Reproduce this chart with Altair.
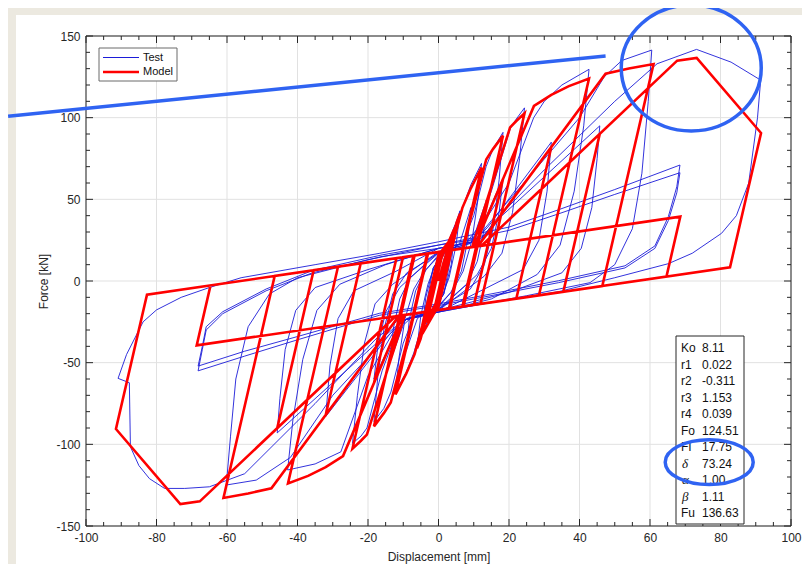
import altair as alt
import pandas as pd

# ---------------- data ----------------
# Model (red) hysteresis vertices: (displacement mm, force kN)
model_small = [
    (0, 0), (1.5, 11.6), (3.05, 22.5), (-0.9, -14.5), (-3.05, -22.5), (0.9, 14.5),
    (4.6, 32.4), (-0.79, -18.0), (-4.6, -32.4), (0.79, 18.0),
    (3.4, 25.5), (-1.1, -18.1), (-3.4, -25.5), (1.1, 18.1),
    (3.02, 18.7), (5.1, 35.6), (6.1, 41.2), (-0.21, -17.8), (-3.02, -18.7), (-5.1, -35.6), (-6.1, -41.2), (0.21, 17.8),
    (3.57, 18.9), (4.6, 27.2), (-0.21, -17.8), (-3.57, -18.9), (-4.6, -27.2), (0.21, 17.8),
]
model_mid = [
    (3.57, 18.9), (6.77, 44.8), (9.2, 56.9), (12.2, 69.5), (2.97, -16.8), (-3.57, -18.9), (-6.77, -44.8), (-9.2, -56.9), (-12.2, -69.5), (-2.97, 16.8),
    (6.82, 19.9), (9.2, 39.2), (3.22, -16.7), (-6.82, -19.9), (-9.2, -39.2), (-3.22, 16.7),
    (6.82, 19.9), (13.54, 74.4), (15.5, 80.9), (18.3, 89.0), (7.12, -15.5), (-6.82, -19.9), (-13.54, -74.4), (-15.5, -80.9), (-18.3, -89.0), (-7.12, 15.5),
    (9.54, 20.8), (13.7, 49.1), (6.78, -15.6), (-9.54, -20.8), (-13.7, -49.1), (-6.78, 15.6),
    (9.54, 20.8), (20.31, 94.0), (22.0, 97.8), (24.4, 102.6), (11.93, -14.0), (-9.54, -20.8), (-20.31, -94.0), (-22.0, -97.8), (-24.4, -102.6), (-11.93, 14.0),
    (10.17, 21.0), (18.3, 62.4), (10.07, -14.6), (-10.17, -21.0), (-18.3, -62.4), (-10.07, 14.6),
]
model_large = [
    (10.17, 21.0), (27.08, 107.2), (32.0, 114.0), (37.0, 119.3), (42.7, 123.9), (28.51, -8.7),
    (-10.17, -21.0), (-27.08, -107.2), (-32.0, -114.0), (-37.0, -119.3), (-42.7, -123.9), (-28.51, 8.7),
    (11.17, 21.3), (32.0, 82.0), (22.08, -10.8), (-11.17, -21.3), (-32.0, -82.0), (-22.08, 10.8),
    (11.17, 21.3), (47.4, 126.9), (54.0, 130.1), (61.0, 132.8), (46.47, -3.1),
    (-11.17, -21.3), (-47.4, -126.9), (-54.0, -130.1), (-61.0, -132.8), (-46.47, 3.1),
    (12.2, 21.6), (45.75, 90.1), (35.41, -6.6), (-12.2, -21.6), (-45.75, -90.1), (-35.41, 6.6),
    (12.2, 21.6), (67.71, 134.9), (73.24, 136.6), (91.5, 90.6), (82.7, 8.4),
    (-12.2, -21.6), (-67.71, -134.9), (-73.24, -136.6), (-91.5, -90.6), (-82.7, -8.4),
    (68.6, 39.4), (64.67, 2.7), (-68.6, -39.4), (-64.67, -2.7),
]

# Test (blue) curve vertices
test_small = [
    (0, 0), (1.5, 13), (3.05, 24), (2.0, 10), (0.3, -8), (-1.5, -16), (-3.05, -23), (-2.0, -10), (-0.3, 8), (1.5, 16),
    (3.0, 25), (4.6, 34), (3.6, 16), (1.5, -8), (-1.5, -18), (-3.2, -25), (-4.6, -33), (-3.6, -16), (-1.5, 8), (1.5, 18),
    (3.4, 26), (2.4, 8), (0, -14), (-2, -19), (-3.4, -25), (-2.4, -8), (0, 14), (2, 19),
    (3.5, 26), (5, 36), (6.1, 43), (5.0, 22), (3, 2), (0, -15), (-3, -20), (-4.5, -30), (-6.1, -41), (-5.0, -21), (-3, -2), (0, 15), (3, 20),
    (4.6, 30), (3.6, 10), (1.5, -8), (-1.5, -17), (-3.5, -21), (-4.6, -29), (-3.6, -10), (-1.5, 8), (1.5, 17), (3.5, 21),
]
test_mid = [
    (5.5, 34), (7, 46), (9.2, 59), (12.2, 72), (11.2, 50), (9.5, 25), (7, 6), (4, -6), (0, -15), (-3, -19),
    (-5.5, -33), (-7, -44), (-9.2, -56), (-12.2, -68), (-11.2, -47), (-9.5, -23), (-7, -5), (-4, 6), (0, 15), (4, 20),
    (6, 23), (9.2, 45), (8.3, 25), (6.5, 6), (3.5, -7), (0, -16), (-4, -20), (-6, -23), (-9.2, -43), (-8.3, -24), (-6.5, -6), (-3.5, 7), (0, 16), (5, 21),
    (7, 24), (10, 40), (13.5, 70), (15.5, 81), (18.3, 91), (17.2, 62), (15.5, 32), (13, 10), (9, -5), (0, -17),
    (-7, -22), (-10, -38), (-13.5, -68), (-15.5, -78), (-18.3, -86), (-17.2, -58), (-15.5, -30), (-13, -8), (-9, 5), (0, 17), (7, 21),
    (10, 27), (13.7, 50), (12.8, 30), (11, 12), (8, -2), (0, -17), (-7, -21), (-10, -27), (-13.7, -49), (-12.8, -29), (-11, -11), (-8, 2), (0, 17), (7, 21),
    (11, 32), (15, 55), (20.3, 93), (22, 99), (24.4, 106), (23, 75), (21, 42), (18, 17), (13, 3), (0, -18),
    (-9, -23), (-12, -32), (-16, -55), (-20.3, -90), (-22, -95), (-24.4, -99.4), (-23, -70), (-21, -38), (-18, -14), (-13, -2), (0, 18), (9, 23),
    (12, 32), (18.3, 63), (17.2, 42), (15, 20), (11, 4), (0, -18), (-9, -23), (-12, -31), (-18.3, -60), (-17.2, -40), (-15, -19), (-11, -4), (0, 18), (9, 23),
]
test_large = [
    (12, 33), (20, 60), (27, 100), (30, 110), (35, 120), (42.7, 129.6), (41.2, 95), (38.5, 55), (34.5, 22), (28, 4), (15, -11), (0, -19),
    (-10, -24), (-13, -32), (-20, -58), (-27.7, -104.6), (-35, -112), (-42.8, -115.7), (-41.3, -85), (-38.5, -48), (-34.5, -18), (-28, -2), (-15, 10), (0, 20), (10, 24),
    (14, 33), (32, 85), (30.8, 55), (28.5, 25), (24, 7), (12, -6), (0, -19), (-10, -24), (-14, -33), (-32, -83), (-30.8, -52), (-28.5, -23), (-24, -6), (-12, 6), (0, 20), (10, 24),
    (15, 37), (25, 62), (40, 100), (47, 125), (52, 135), (60.5, 141.4), (59.5, 110), (57.7, 66), (55, 32), (50, 10), (43, -1), (25, -9), (0, -19),
    (-10, -24), (-15, -35), (-30, -70), (-42, -108), (-51.7, -121.9), (-60.2, -124.9), (-59, -95), (-57.5, -60), (-54, -28), (-48, -8), (-40, 2), (-20, 13), (0, 22), (12, 26),
    (16, 36), (45.75, 95), (45, 75), (43.5, 45), (40.5, 20), (35, 5), (20, -7), (0, -18), (-10, -24), (-16, -35),
    (-45.75, -93), (-45, -72), (-43.5, -42), (-40.5, -18), (-35, -4), (-20, 7), (0, 20), (12, 25),
    (16, 37), (30, 68), (50, 110), (62, 133), (73.2, 141.8), (83, 134), (91.4, 123), (90.5, 100), (88, 60), (84.5, 40), (80.3, 29.2),
    (72, 17), (65.2, 10.6), (50, 2), (34.1, -6.5), (10, -15), (0, -19), (-12, -25), (-18, -36), (-35, -75), (-55, -118), (-65, -126),
    (-72, -127), (-77.7, -127), (-82, -121), (-85, -113), (-87.4, -101.5), (-87.7, -62.3), (-90.9, -59.6), (-88.5, -45), (-83.8, -25),
    (-80, -17.7), (-73, -10), (-65, -4), (-56, 2), (-35, 10), (-16.8, 16.9), (0, 24), (20, 33),
    (33.9, 43.5), (50, 56), (68.5, 71), (67.6, 57.7), (65.2, 39.4), (61.4, 21.5), (52.9, 9.3), (34.1, 0.2), (10, -10), (0, -14),
    (-16.8, -19.8), (-40, -34), (-55, -43), (-68.2, -52.1), (-67, -40), (-65.9, -28), (-61.2, -18.8), (-48.9, -4.9), (-35.8, 6.4), (-16, 16), (0, 22), (20, 31),
    (33.9, 41), (50, 53), (68.5, 66.3), (67.6, 54), (65.2, 37), (61.4, 20), (52.9, 8), (34.1, -1), (10, -11), (0, -15),
    (-16.8, -21), (-40, -36), (-55, -46), (-68.2, -55), (-67, -42), (-65.9, -30), (-61.2, -20), (-48.9, -6), (-35.8, 5), (-16, 15), (0, 20),
]

x_major = [-100, -80, -60, -40, -20, 0, 20, 40, 60, 80, 100]
x_minor = [-95, -90, -85, -75, -70, -65, -55, -50, -45, -35, -30, -25, -15, -10, -5,
           5, 10, 15, 25, 30, 35, 45, 50, 55, 65, 70, 75, 85, 90, 95]
y_major = [-150, -100, -50, 0, 50, 100, 150]
y_minor = [-140, -130, -120, -110, -90, -80, -70, -60, -40, -30, -20, -10,
           10, 20, 30, 40, 60, 70, 80, 90, 110, 120, 130, 140]

legend_labels = ["Test", "Model"]
param_names = ["Ko", "r1", "r2", "r3", "r4", "Fo", "FI", "δ", "α", "β", "Fu"]
param_values = ["8.11", "0.022", "-0.311", "1.153", "0.039", "124.51", "17.75", "73.24", "1.00", "1.11", "136.63"]
param_greek = [False, False, False, False, False, False, False, True, True, True, False]

annot_line_x = [-122.1, 47.4]
annot_line_y = [100.9, 137.8]
annot_ring_x = [71.7, 76.8]
annot_ring_y = [130.4, -110.9]

# ---------------- styling ----------------
W, H = 705, 490
PR = 11  # right padding
FONT = "Liberation Sans"
INK = "#262626"
BEIGE = "#ece9e0"
RED = "#ff0000"
BLUE = "#1c1cd8"
ANN = "#2f63f2"

def series(pts):
    return pd.DataFrame({"x": [p[0] for p in pts], "y": [p[1] for p in pts], "i": list(range(len(pts)))})

model_df = series(model_small + model_mid + model_large)
test_df = series(test_small + test_mid + test_large)

xs = alt.Scale(domain=[-100, 100], nice=False, zero=False)
ys = alt.Scale(domain=[-150, 150], nice=False, zero=False)

x_axis = alt.Axis(values=x_major, title="Displacement [mm]", grid=False, ticks=False, tickSize=0, domain=False,
                  labelFont=FONT, labelFontSize=12, labelColor=INK, labelPadding=6, labelFlush=False,
                  labelOverlap=False, labelExpr="toString(datum.value)",
                  titleFont=FONT, titleFontSize=12, titleFontWeight="normal", titleColor=INK,
                  titleY=25, titleBaseline="top", zindex=1)
y_axis = alt.Axis(values=y_major, title="Force [kN]", grid=False, ticks=False, tickSize=0, domain=False,
                  labelFont=FONT, labelFontSize=12, labelColor=INK, labelPadding=6, labelFlush=False,
                  labelOverlap=False, labelExpr="toString(datum.value)",
                  titleFont=FONT, titleFontSize=12, titleFontWeight="normal", titleColor=INK,
                  titleX=-36, titleY=245, titleAngle=270, titleAlign="center", titleBaseline="bottom", zindex=1)

def X(field):
    return alt.X(field, scale=xs, axis=x_axis)

def Y(field):
    return alt.Y(field, scale=ys, axis=y_axis)

one = pd.DataFrame({"k": [0]})

bg = alt.Chart(one).mark_rect(color="white", strokeWidth=0).encode(
    x=alt.value(-70), x2=alt.value(W + PR), y=alt.value(-21), y2=alt.value(H + 38))

grid_x = alt.Chart(pd.DataFrame({"v": x_major})).mark_rule(color="#e1e1e1", strokeWidth=1).encode(
    x=X("v:Q"), y=alt.value(0), y2=alt.value(H))
grid_y = alt.Chart(pd.DataFrame({"v": y_major})).mark_rule(color="#e1e1e1", strokeWidth=1).encode(
    y=Y("v:Q"), x=alt.value(0), x2=alt.value(W))

test_line = alt.Chart(test_df).mark_line(color=BLUE, strokeWidth=0.9).encode(
    x=X("x:Q"), y=Y("y:Q"), order="i:Q")
model_line = alt.Chart(model_df).mark_line(color=RED, strokeWidth=2.6, strokeJoin="miter").encode(
    x=X("x:Q"), y=Y("y:Q"), order="i:Q")

def xticks(vals, y0, y1):
    return alt.Chart(pd.DataFrame({"v": vals})).mark_rule(color=INK, strokeWidth=1).encode(
        x=X("v:Q"), y=alt.value(y0), y2=alt.value(y1))

def yticks(vals, x0, x1):
    return alt.Chart(pd.DataFrame({"v": vals})).mark_rule(color=INK, strokeWidth=1).encode(
        y=Y("v:Q"), x=alt.value(x0), x2=alt.value(x1))

ticks = [
    xticks(x_major, H, H - 7), xticks(x_minor, H, H - 4),
    xticks(x_major, 0, 7), xticks(x_minor, 0, 4),
    yticks(y_major, 0, 7), yticks(y_minor, 0, 4),
    yticks(y_major, W, W - 7), yticks(y_minor, W, W - 4),
]

border = alt.Chart(one).mark_rect(fillOpacity=0, stroke=INK, strokeWidth=1).encode(
    x=alt.value(0), x2=alt.value(W), y=alt.value(0), y2=alt.value(H))

# legend
leg_box = alt.Chart(one).mark_rect(fill="white", stroke="#6a6a6a", strokeWidth=1).encode(
    x=alt.value(13), x2=alt.value(91), y=alt.value(12), y2=alt.value(45))
leg_test = alt.Chart(one).mark_rule(color=BLUE, strokeWidth=1).encode(
    x=alt.value(17), x2=alt.value(53), y=alt.value(21.5))
leg_model = alt.Chart(one).mark_rule(color=RED, strokeWidth=2.6).encode(
    x=alt.value(17), x2=alt.value(53), y=alt.value(36))
leg_t1 = alt.Chart(pd.DataFrame({"t": [legend_labels[0]]})).mark_text(
    font=FONT, fontSize=11, color="#111111", align="left", baseline="middle").encode(
    text="t:N", x=alt.value(57), y=alt.value(21.5))
leg_t2 = alt.Chart(pd.DataFrame({"t": [legend_labels[1]]})).mark_text(
    font=FONT, fontSize=11, color="#111111", align="left", baseline="middle").encode(
    text="t:N", x=alt.value(57), y=alt.value(36))

# parameter box
params = pd.DataFrame({"name": param_names, "val": param_values, "k": list(range(len(param_names))),
                       "g": param_greek})
p_box = alt.Chart(one).mark_rect(fill="white", stroke=INK, strokeWidth=1).encode(
    x=alt.value(590), x2=alt.value(658), y=alt.value(300), y2=alt.value(488))
p_base = alt.Chart(params).transform_calculate(py="312.3 + 16.5 * datum.k")
p_names = p_base.transform_filter("!datum.g").mark_text(
    font=FONT, fontSize=12, color="#111111", align="left", baseline="middle").encode(
    text="name:N", x=alt.value(595), y=alt.Y("py:Q", scale=None, axis=None))
p_greek = p_base.transform_filter("datum.g").mark_text(
    font="Liberation Serif", fontSize=13, fontStyle="italic", color="#111111", align="left", baseline="middle").encode(
    text="name:N", x=alt.value(596), y=alt.Y("py:Q", scale=None, axis=None))
p_vals = p_base.mark_text(
    font=FONT, fontSize=12, color="#111111", align="left", baseline="middle").encode(
    text="val:N", x=alt.value(616), y=alt.Y("py:Q", scale=None, axis=None))

# blue annotations
ann_line = alt.Chart(pd.DataFrame({"x": annot_line_x, "y": annot_line_y, "i": [0, 1]})).mark_line(
    color=ANN, strokeWidth=3.5).encode(x=X("x:Q"), y=Y("y:Q"), order="i:Q")

ELL1 = ("M 1 0 C 1 0.497 0.552 0.9 0 0.9 C -0.552 0.9 -1 0.497 -1 0 "
        "C -1 -0.497 -0.552 -0.9 0 -0.9 C 0.552 -0.9 1 -0.497 1 0 Z")
ELL2 = ("M 1 0 C 1 0.282 0.552 0.511 0 0.511 C -0.552 0.511 -1 0.282 -1 0 "
        "C -1 -0.282 -0.552 -0.511 0 -0.511 C 0.552 -0.511 1 -0.282 1 0 Z")
ring1 = alt.Chart(pd.DataFrame({"x": annot_ring_x[:1], "y": annot_ring_y[:1]})).mark_point(
    shape=ELL1, size=19600, filled=False, color=ANN, strokeWidth=3.5, opacity=1).encode(
    x=X("x:Q"), y=Y("y:Q"))
ring2 = alt.Chart(pd.DataFrame({"x": annot_ring_x[1:], "y": annot_ring_y[1:]})).mark_point(
    shape=ELL2, size=7744, filled=False, color=ANN, strokeWidth=3.5, opacity=1).encode(
    x=X("x:Q"), y=Y("y:Q"))

chart = alt.layer(
    bg, grid_x, grid_y, test_line, model_line, *ticks, border,
    leg_box, leg_test, leg_model, leg_t1, leg_t2,
    p_box, p_names, p_greek, p_vals,
    ann_line, ring1, ring2,
).properties(
    width=W, height=H,
    padding={"left": 78, "top": 28, "right": PR, "bottom": 38},
    autosize=alt.AutoSizeParams(type="none"),
    background=BEIGE,
).configure_view(strokeWidth=0)

chart.save("out.html", embed_options={"renderer": "svg", "actions": False})
